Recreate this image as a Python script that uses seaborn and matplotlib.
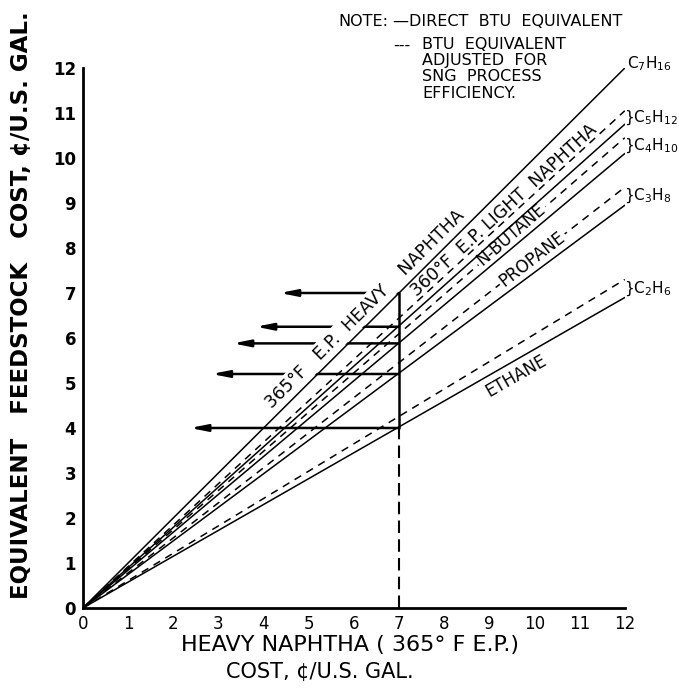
import numpy as np
import pandas as pd
import matplotlib
matplotlib.use("Agg")
import matplotlib.pyplot as plt
import seaborn as sns

# heavy naphtha cost range (cents / US gal)
naphtha_cost = [0, 12]

# equivalent feedstock cost at 12 cents/gal heavy naphtha
fuels = ["C7H16", "C5H12", "C4H10", "C3H8", "C2H6"]
formula_labels = [r"C$_7$H$_{16}$", r"C$_5$H$_{12}$", r"C$_4$H$_{10}$",
                  r"C$_3$H$_8$", r"C$_2$H$_6$"]
direct_at_12 = [12.0, 10.75, 10.1, 8.95, 6.9]
adjusted_at_12 = [np.nan, 11.05, 10.45, 9.35, 7.3]

# read-off at 7 cents/gal heavy naphtha
read_cost = 7
read_values = [7.0, 6.25, 5.88, 5.2, 4.0]
arrow_tips = [4.36, 3.83, 3.32, 2.85, 2.37]

# long-form table for seaborn
rows = []
for fuel, d, a in zip(fuels, direct_at_12, adjusted_at_12):
    for basis, end in (("direct", d), ("adjusted", a)):
        if np.isnan(end):
            continue
        for x in naphtha_cost:
            rows.append({"fuel": fuel, "basis": basis, "naphtha": x,
                         "cost": end * x / naphtha_cost[-1]})
df = pd.DataFrame(rows)

sns.set_style("white")
plt.rcParams["font.family"] = ["DejaVu Sans"]
plt.rcParams["mathtext.default"] = "regular"
plt.rcParams["text.color"] = "black"

fig = plt.figure(figsize=(6.79, 6.89), dpi=100)
ax = fig.add_axes([0.1222, 0.1176, 0.798, 0.7837])

sns.lineplot(data=df, x="naphtha", y="cost", units="fuel", style="basis",
             estimator=None, color="black", linewidth=1.1,
             dashes={"direct": "", "adjusted": (5, 4)}, legend=False, ax=ax)

ax.set_xlim(0, 12)
ax.set_ylim(0, 12)
ax.set_xticks(range(13))
ax.set_yticks(range(13))
ax.set_xlabel("")
ax.set_ylabel("")
sns.despine(ax=ax)
for s in ("left", "bottom"):
    ax.spines[s].set_linewidth(2)
    ax.spines[s].set_color("black")
ax.tick_params(direction="in", length=5, width=1.5, colors="black",
               labelsize=12, pad=5)
for t in ax.get_yticklabels():
    t.set_fontweight("bold")

# solid lines above label boxes, dashed ones below
for ln in ax.lines:
    ln.set_zorder(4 if ln.get_linestyle() == "-" else 2)

# read-off lines at 7 cents
ax.plot([read_cost, read_cost], [4.0, 7.0], color="black", lw=1.8, zorder=2)
ax.plot([read_cost, read_cost], [0, 4.0], color="black", lw=1.5,
        dashes=(6, 3), zorder=2)
for yv, tip in zip(read_values, arrow_tips):
    ax.annotate("", xy=(tip, yv), xytext=(read_cost, yv),
                arrowprops=dict(arrowstyle="-|>,head_length=1.0,head_width=0.2",
                                color="black", lw=1.8, shrinkA=0, shrinkB=0),
                zorder=2)


def screen_angle(slope):
    (x0, y0), (x1, y1) = ax.transData.transform([(0, 0), (1, slope)])
    return np.degrees(np.arctan2(y1 - y0, x1 - x0))


def line_label(text, x, end, offset, box=False, size=12):
    slope = end / 12
    ang = screen_angle(slope)
    th = np.radians(ang)
    kw = {}
    if box:
        kw["bbox"] = dict(boxstyle="square,pad=0.12", fc="white", ec="none")
    ax.annotate(text, xy=(x, slope * x),
                xytext=(-np.sin(th) * offset, np.cos(th) * offset),
                textcoords="offset points", rotation=ang,
                rotation_mode="anchor", ha="center", va="center",
                fontsize=size, zorder=3, **kw)


line_label("365°F   E.P.  HEAVY    NAPHTHA", 6.45, direct_at_12[0], 9,
           box=True, size=12.5)
line_label("360°F  E.P. LIGHT  NAPHTHA", 9.45, adjusted_at_12[1], 6, size=12.5)
line_label("N-BUTANE", 9.5, adjusted_at_12[2], 1, box=True)
line_label("PROPANE", 9.95, adjusted_at_12[3], 0, box=True)
line_label("ETHANE", 9.45, direct_at_12[4], -10)

# formula tags at the right end (brace spans the direct/adjusted pair)
ax.text(12.05, 12.1, formula_labels[0], fontsize=11, ha="left",
        va="center", clip_on=False)
for lab, d, a in zip(formula_labels[1:], direct_at_12[1:], adjusted_at_12[1:]):
    mid = (d + a) / 2
    ax.text(11.98, mid, "}" + lab, fontsize=11, ha="left", va="center",
            clip_on=False)

# axis titles
W, H = 679, 689
fig.text(22 / W, 1 - 305 / H, "EQUIVALENT   FEEDSTOCK   COST, ¢/U.S. GAL.",
         rotation=90, fontsize=16.5, fontweight="bold", ha="center", va="center")
fig.text(350 / W, 1 - 645 / H, "HEAVY NAPHTHA ( 365° F E.P.)",
         fontsize=16, ha="center", va="center")
fig.text(320 / W, 1 - 672 / H, "COST, ¢/U.S. GAL.",
         fontsize=15, ha="center", va="center")

# note block
fig.text(388 / W, 1 - 22 / H, "NOTE:", fontsize=11.5, ha="right", va="center")
fig.text(393 / W, 1 - 22 / H, "—DIRECT  BTU  EQUIVALENT", fontsize=11.5,
         ha="left", va="center")
fig.text(393 / W, 1 - 45 / H, "---", fontsize=11.5, ha="left", va="center")
fig.text(422 / W, 1 - 37 / H,
         "BTU  EQUIVALENT\nADJUSTED  FOR\nSNG  PROCESS\nEFFICIENCY.",
         fontsize=11.5, ha="left", va="top", linespacing=1.1)

fig.savefig("out.png", dpi=100)
